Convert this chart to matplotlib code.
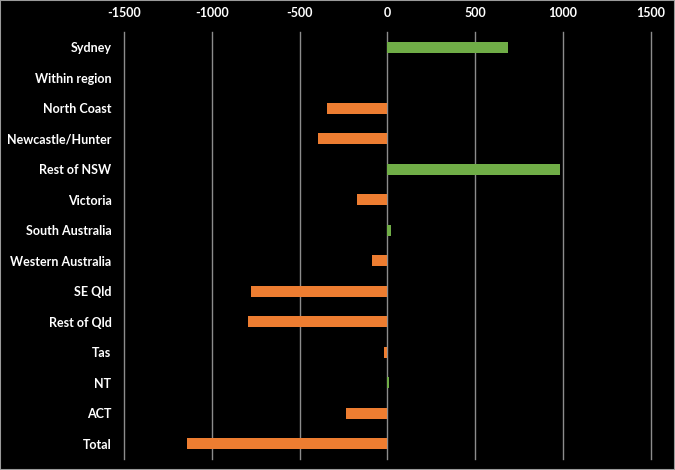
import numpy as np
import matplotlib.pyplot as plt
from matplotlib.patches import Rectangle

# data
regions = ['Sydney', 'Within region', 'North Coast', 'Newcastle/Hunter', 'Rest of NSW',
           'Victoria', 'South Australia', 'Western Australia', 'SE Qld', 'Rest of Qld',
           'Tas', 'NT', 'ACT', 'Total']
net_flow = [687, 0, -346, -395, 981, -174, 20, -88, -778, -796, -18, 6, -234, -1141]
x_ticks = [-1500, -1000, -500, 0, 500, 1000, 1500]

orange = '#ED7D31'
green = '#70AD47'

plt.rcParams['font.family'] = ['Lato', 'DejaVu Sans']

fig = plt.figure(figsize=(6.75, 4.70), dpi=100, facecolor='black')
ax = fig.add_axes([0.1837, 0.0234, 0.7807, 0.9086], facecolor='black')

y = np.arange(len(regions))
colors = [green if v > 0 else orange for v in net_flow]
ax.barh(y, net_flow, height=0.36, color=colors, zorder=3)

ax.set_xlim(-1500, 1500)
ax.set_ylim(len(regions) - 0.5, -0.5)
ax.set_xticks(x_ticks)
ax.set_xticklabels([str(t) for t in x_ticks])
ax.set_yticks(y)
ax.set_yticklabels(regions)

ax.xaxis.tick_top()
ax.tick_params(axis='x', length=0, pad=9, labelsize=9, labelcolor='white')
ax.tick_params(axis='y', length=0, pad=9, labelsize=9, labelcolor='white')
for lbl in ax.get_xticklabels() + ax.get_yticklabels():
    lbl.set_fontweight('bold')

ax.grid(axis='x', color='#8c8c8c', linewidth=1, zorder=1)
ax.grid(axis='y', visible=False)
for line in ax.get_xgridlines():
    line.set_clip_on(False)
for s in ax.spines.values():
    s.set_visible(False)

# thin grey frame round the picture
fig.patches.append(Rectangle((0, 0), 1, 1, transform=fig.transFigure, fill=False,
                             edgecolor='#9a9a9a', linewidth=1.5))

fig.savefig('out.png', dpi=100, facecolor='black')
